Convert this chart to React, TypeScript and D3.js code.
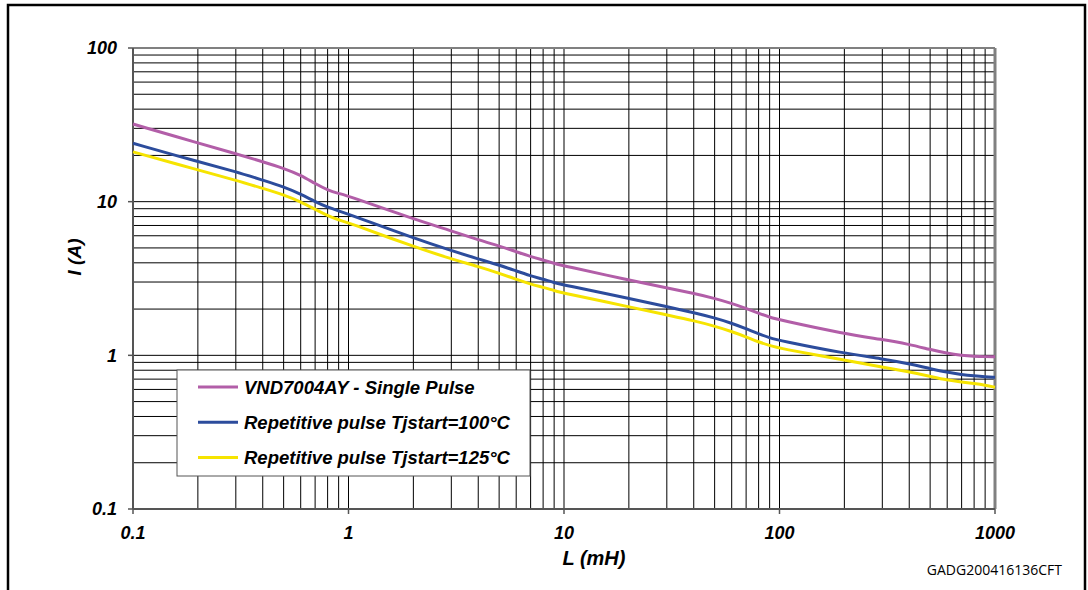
import React from "react";
import * as d3 from "d3";

const L_VALUES = [0.1, 0.2, 0.3, 0.4, 0.5, 0.6, 0.7, 0.8, 0.9, 1, 2, 3, 4, 5, 6, 7, 8, 9, 10, 20, 30, 40, 50, 60, 70, 80, 90, 100, 200, 300, 400, 500, 600, 700, 800, 900, 1000];
const SINGLE_PULSE = [32, 24.1, 20.5, 18.2, 16.5, 14.9, 13.1, 11.9, 11.3, 10.9, 7.7, 6.47, 5.64, 5.15, 4.73, 4.39, 4.17, 3.97, 3.82, 3.09, 2.75, 2.53, 2.35, 2.18, 2.02, 1.88, 1.77, 1.7, 1.38, 1.27, 1.18, 1.09, 1.03, 1.0, 0.985, 0.98, 0.98];
const REP_100 = [24, 18.2, 15.7, 13.8, 12.5, 11.2, 10.0, 9.2, 8.7, 8.3, 5.8, 4.8, 4.24, 3.87, 3.54, 3.29, 3.13, 2.97, 2.87, 2.35, 2.07, 1.9, 1.75, 1.62, 1.49, 1.38, 1.3, 1.25, 1.03, 0.95, 0.88, 0.82, 0.775, 0.75, 0.735, 0.725, 0.72];
const REP_125 = [21.1, 16.1, 13.8, 12.2, 11.1, 10.0, 8.9, 8.1, 7.6, 7.3, 5.1, 4.24, 3.78, 3.42, 3.13, 2.9, 2.77, 2.64, 2.54, 2.07, 1.83, 1.68, 1.55, 1.43, 1.32, 1.22, 1.16, 1.11, 0.93, 0.84, 0.78, 0.73, 0.69, 0.67, 0.655, 0.64, 0.62];

const SERIES_NAMES = ["VND7004AY - Single Pulse", "Repetitive pulse Tjstart=100°C", "Repetitive pulse Tjstart=125°C"];
const SERIES_COLORS = ["#B25EA8", "#2C4C9C", "#F6E400"];
const X_TICKS = [0.1, 1, 10, 100, 1000];
const X_TICK_LABELS = ["0.1", "1", "10", "100", "1000"];
const Y_TICKS = [0.1, 1, 10, 100];
const Y_TICK_LABELS = ["0.1", "1", "10", "100"];
const X_TITLE = "L (mH)";
const Y_TITLE = "I (A)";
const FOOTER = "GADG200416136CFT";

const W = 1088;
const H = 590;
const LEFT = 133, RIGHT = 995, TOP = 48, BOTTOM = 509;

function minorValues(lo: number, hi: number): number[] {
  const out: number[] = [];
  for (let d = lo; d < hi; d *= 10) {
    for (let k = 1; k <= 9; k++) out.push(d * k);
  }
  out.push(hi);
  return out;
}

export default function App() {
  const x = d3.scaleLog().domain([0.1, 1000]).range([LEFT, RIGHT]);
  const y = d3.scaleLog().domain([0.1, 100]).range([BOTTOM, TOP]);
  const xGrid = minorValues(0.1, 1000);
  const yGrid = minorValues(0.1, 100);
  const allSeries = [SINGLE_PULSE, REP_100, REP_125];
  const line = d3
    .line<[number, number]>()
    .x((d) => x(d[0]))
    .y((d) => y(d[1]))
    .curve(d3.curveBasis);

  const font = "'Liberation Sans', Arial, sans-serif";
  const legendX = 177, legendY = 370, legendW = 353, legendH = 106;

  return (
    <svg
      width={W}
      height={H}
      style={{ position: "absolute", left: 0, top: 0, background: "#fff" }}
    >
      <rect x={0} y={0} width={W} height={H} fill="#fff" />
      {/* outer frame */}
      <rect x={8} y={5} width={1077} height={600} fill="none" stroke="#000" strokeWidth={2.5} />

      {/* grid */}
      <g stroke="#000" strokeWidth={1}>
        {xGrid.map((v, i) => (
          <line key={"gx" + i} x1={x(v)} x2={x(v)} y1={TOP} y2={BOTTOM} />
        ))}
        {yGrid.map((v, i) => (
          <line key={"gy" + i} x1={LEFT} x2={RIGHT} y1={y(v)} y2={y(v)} />
        ))}
      </g>

      {/* plot frame */}
      <line x1={LEFT} x2={RIGHT} y1={TOP} y2={TOP} stroke="#808080" strokeWidth={2} />
      <line x1={RIGHT} x2={RIGHT} y1={TOP} y2={BOTTOM} stroke="#808080" strokeWidth={3} />
      <line x1={LEFT} x2={LEFT} y1={TOP} y2={BOTTOM} stroke="#555" strokeWidth={2} />
      <line x1={LEFT} x2={RIGHT} y1={BOTTOM} y2={BOTTOM} stroke="#555" strokeWidth={2} />

      {/* ticks */}
      <g stroke="#555" strokeWidth={1.5}>
        {Y_TICKS.map((v, i) => (
          <line key={"ty" + i} x1={LEFT - 5} x2={LEFT} y1={y(v)} y2={y(v)} />
        ))}
        {X_TICKS.map((v, i) => (
          <line key={"tx" + i} x1={x(v)} x2={x(v)} y1={BOTTOM} y2={BOTTOM + 5} />
        ))}
      </g>

      {/* curves */}
      {allSeries.map((vals, si) => (
        <path
          key={"s" + si}
          d={line(L_VALUES.map((l, i) => [l, vals[i]] as [number, number])) || ""}
          fill="none"
          stroke={SERIES_COLORS[si]}
          strokeWidth={3}
          strokeLinejoin="round"
        />
      ))}

      {/* tick labels */}
      <g fontFamily={font} fontWeight="bold" fontStyle="italic" fontSize={18} fill="#000">
        {Y_TICKS.map((v, i) => (
          <text key={"ly" + i} x={117} y={y(v)} dy="0.35em" textAnchor="end">
            {Y_TICK_LABELS[i]}
          </text>
        ))}
        {X_TICKS.map((v, i) => (
          <text key={"lx" + i} x={x(v)} y={539} textAnchor="middle">
            {X_TICK_LABELS[i]}
          </text>
        ))}
        <text x={594} y={565} textAnchor="middle" fontSize={20}>
          {X_TITLE}
        </text>
        <text x={0} y={0} textAnchor="middle" fontSize={19} transform="translate(81,257) rotate(-90)">
          {Y_TITLE}
        </text>
      </g>

      {/* legend */}
      <rect x={legendX} y={legendY} width={legendW} height={legendH} fill="#fff" stroke="#555" strokeWidth={1} />
      {SERIES_NAMES.map((name, i) => {
        const cy = 387 + i * 35.3;
        return (
          <g key={"lg" + i}>
            <line x1={198} x2={238} y1={cy} y2={cy} stroke={SERIES_COLORS[i]} strokeWidth={3} />
            <text
              x={244}
              y={cy + 6.5}
              fontFamily={font}
              fontWeight="bold"
              fontStyle="italic"
              fontSize={18.5}
              fill="#000"
            >
              {name}
            </text>
          </g>
        );
      })}

      <text x={1062} y={575} textAnchor="end" fontFamily="'Open Sans', sans-serif" fontSize={14} fill="#000">
        {FOOTER}
      </text>
    </svg>
  );
}
